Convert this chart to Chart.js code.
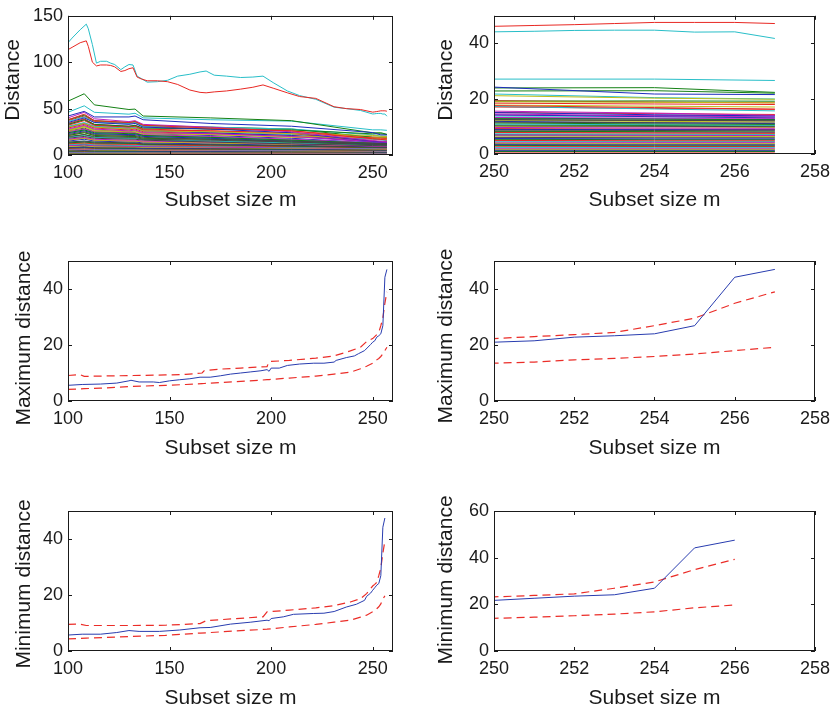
<!DOCTYPE html>
<html>
<head>
<meta charset="utf-8">
<script src="https://cdn.jsdelivr.net/npm/chart.js@4.4.1/dist/chart.umd.min.js"></script>
<style>
  body { margin: 0; background: #fff; }
  #wrap { position: relative; width: 837px; height: 710px; overflow: hidden; }
  #wrap canvas { position: absolute; }
</style>
</head>
<body>
<div id="wrap">
  <canvas id="distAll" width="418" height="222" style="left:0;top:0"></canvas>
  <canvas id="distZoom" width="419" height="222" style="left:418px;top:0"></canvas>
  <canvas id="maxAll" width="418" height="238" style="left:0;top:232px"></canvas>
  <canvas id="maxZoom" width="419" height="238" style="left:418px;top:232px"></canvas>
  <canvas id="minAll" width="418" height="238" style="left:0;top:472px"></canvas>
  <canvas id="minZoom" width="419" height="238" style="left:418px;top:472px"></canvas>
</div>
<script>
// ---- forward search trajectories (top row) ----
const outlierSizes = [100, 102, 106, 109, 110, 112, 114, 116, 119, 121, 123, 126, 128, 130, 132, 134, 136, 139, 144, 149, 154, 160, 165, 168, 172, 178, 185, 191, 196, 201, 208, 214, 222, 231, 237, 244, 250, 251, 252, 253, 254, 255, 256, 257];
const outlierCyan = [121, 126, 135, 141, 136, 119, 99, 101, 101, 99, 97.5, 92, 95, 97.5, 97, 85, 82.5, 78.5, 79, 80.5, 85, 87, 89.5, 90.5, 86, 85, 83.5, 84, 85, 78, 69, 64, 60, 51.5, 50, 48, 44.2, 44.4, 44.7, 44.8, 44.8, 44.1, 44.2, 41.8];
const outlierRed = [113.5, 116, 121, 123, 117, 100, 96, 97, 97, 96.5, 95, 90, 91, 93, 94, 84, 82, 80, 80, 79, 76, 70, 67.5, 67, 68, 69, 71, 73, 75.5, 72, 67, 63, 61, 52, 50, 49, 46.2, 46.5, 46.8, 47.2, 47.6, 47.6, 47.6, 47.2];

const bundleSizes = [100, 108, 113, 130, 133, 137, 170, 210, 250, 254, 257];
const bundleDistances = [
  [42, 47, 41, 41, 42, 38, 34, 31, 24.2, 21.7, 21.5],
  [58, 66, 54, 49, 49.5, 42, 40, 37, 23.9, 24.0, 22.3],
  [38, 44, 37, 35, 36, 32, 29, 26, 17.5, 16.8, 16.2],
  [46, 53, 46, 44, 45, 40, 38, 36.5, 27.1, 27.1, 26.6],
  [40, 46, 39, 36, 37, 33, 30, 25, 15.5, 14.8, 14.0],
  [30, 34, 30, 28, 29, 26, 25, 23, 21.1, 20.2, 19.8],
  [22, 25, 22, 21, 21, 19, 17, 15, 12.5, 12.2, 12.0],
  [35, 40, 35, 33, 34, 30, 28, 24, 15.0, 14.2, 13.8],
  [33, 38, 33, 31, 32, 29, 28, 27, 22.8, 22.9, 22.0],
  [32, 37, 32, 30, 31, 27, 26, 24, 18.4, 18.1, 17.9],
  [36, 41, 35, 34, 35, 31, 30, 28, 21.7, 20.4, 19.9],
  [28, 32, 28, 26, 27, 24, 23, 20, 14.5, 13.8, 13.4],
  [26, 30, 26, 25, 25, 23, 22, 20, 18.9, 18.7, 18.5],
  [20, 22, 20, 19, 19, 17, 16, 14, 11.5, 11.3, 11.2],
  [30, 34, 30, 28, 29, 26, 24, 21, 14.2, 13.5, 13.1],
  [24, 27, 24, 23, 23, 21, 19, 16, 12.8, 12.6, 12.4],
  [34, 39, 33, 31, 32, 28, 26, 23, 15.0, 14.6, 14.3],
  [31, 35, 31, 29, 30, 27, 25, 22, 17.2, 16.3, 15.6],
  [25, 28, 25, 24, 24, 22, 20, 17, 13.2, 13.0, 12.9],
  [27, 31, 27, 26, 26, 24, 22, 19, 17.7, 17.3, 17.0],
  [18, 20, 18, 17, 17, 16, 14, 12, 10.2, 10.0, 9.9],
  [23, 26, 23, 22, 22, 20, 18, 15, 11.8, 11.3, 11.0],
  [21, 24, 21, 20, 20, 18, 17, 14, 11.2, 10.9, 10.7],
  [29, 33, 29, 27, 28, 25, 23, 21, 17.0, 16.5, 16.2],
  [19, 21, 19, 18, 18, 17, 15, 13, 10.8, 10.6, 10.4],
  [17, 19, 17, 16, 16, 15, 14, 12, 9.6, 9.4, 9.3],
  [16, 18, 16, 15, 15, 14, 13, 11.5, 10.0, 9.8, 9.6],
  [14, 15, 14, 13, 13, 12, 11, 10, 8.6, 8.5, 8.4],
  [15, 17, 15, 14, 14, 13, 12, 10.5, 8.9, 8.8, 8.7],
  [13, 14, 13, 12.5, 12.5, 11.5, 11, 9.5, 8.2, 8.1, 8.0],
  [12, 13, 12, 11.5, 11.5, 11, 10, 9, 7.8, 7.6, 7.5],
  [11, 12, 11, 10.5, 10.5, 10, 9.5, 8.5, 7.3, 7.2, 7.1],
  [10, 11, 10, 9.5, 9.5, 9, 8.5, 7.8, 6.9, 6.8, 6.7],
  [9, 10, 9, 8.7, 8.7, 8.3, 8, 7.3, 6.5, 6.4, 6.3],
  [8.5, 9, 8.5, 8, 8, 7.7, 7.3, 6.8, 6.0, 5.9, 5.9],
  [8, 8.5, 8, 7.5, 7.5, 7.2, 6.9, 6.4, 5.6, 5.5, 5.5],
  [7.5, 8, 7.5, 7, 7, 6.8, 6.5, 6, 5.3, 5.2, 5.2],
  [7, 7.5, 7, 6.6, 6.6, 6.4, 6.1, 5.6, 4.9, 4.8, 4.8],
  [6.5, 7, 6.5, 6.2, 6.2, 6, 5.7, 5.2, 4.6, 4.5, 4.5],
  [6, 6.4, 6, 5.8, 5.8, 5.5, 5.3, 4.9, 4.3, 4.2, 4.2],
  [5.5, 5.9, 5.5, 5.3, 5.3, 5.1, 4.9, 4.5, 4.0, 3.9, 3.9],
  [5, 5.3, 5, 4.8, 4.8, 4.6, 4.4, 4.1, 3.7, 3.6, 3.6],
  [4.5, 4.8, 4.5, 4.3, 4.3, 4.2, 4.0, 3.7, 3.4, 3.3, 3.3],
  [4, 4.3, 4, 3.9, 3.9, 3.8, 3.6, 3.4, 3.1, 3.0, 3.0],
  [3.5, 3.7, 3.5, 3.4, 3.4, 3.3, 3.2, 3.0, 2.8, 2.7, 2.7],
  [3, 3.2, 3, 2.9, 2.9, 2.8, 2.7, 2.6, 2.4, 2.4, 2.4],
  [2.6, 2.8, 2.6, 2.5, 2.5, 2.4, 2.3, 2.2, 2.1, 2.1, 2.1],
  [2.2, 2.3, 2.2, 2.1, 2.1, 2.0, 2.0, 1.9, 1.8, 1.8, 1.8],
  [1.8, 1.9, 1.8, 1.7, 1.7, 1.7, 1.6, 1.6, 1.5, 1.5, 1.5],
  [1.4, 1.5, 1.4, 1.4, 1.4, 1.3, 1.3, 1.3, 1.2, 1.2, 1.2],
  [1.1, 1.1, 1.1, 1.0, 1.0, 1.0, 1.0, 1.0, 0.9, 0.9, 0.9],
  [0.8, 0.8, 0.8, 0.8, 0.8, 0.8, 0.8, 0.7, 0.7, 0.7, 0.7],
  [24, 27, 23, 22, 23, 20, 18, 16, 13.7, 13.6, 13.7],
  [33, 38, 32, 30, 31, 27, 24, 20, 14.0, 13.9, 13.9],
  [21, 24, 21, 20, 20, 18, 17, 15.5, 12.0, 11.8, 11.6],
  [26, 29, 25, 24, 24, 21, 19, 16, 12.2, 12.1, 12.0],
  [27, 31, 27, 25, 26, 23, 21, 18, 13.0, 12.7, 12.5],
  [19, 22, 19, 18, 18, 16.5, 15, 13, 10.5, 10.3, 10.2],
  [16, 18, 16, 15, 15, 14, 13, 11, 9.2, 9.0, 8.9],
  [13.5, 15, 13.5, 13, 13, 12, 11.5, 10, 9.0, 8.9, 8.8],
  [12.5, 14, 12.5, 12, 12, 11, 10.5, 9.5, 8.0, 7.9, 7.8],
  [11.5, 12.5, 11.5, 11, 11, 10.5, 10, 9, 7.7, 7.6, 7.5],
  [10.5, 11.5, 10.5, 10, 10, 9.5, 9, 8.2, 7.0, 6.9, 6.9],
  [9.5, 10.5, 9.5, 9, 9, 8.7, 8.3, 7.6, 6.6, 6.5, 6.5],
  [38, 43, 37, 35, 36, 32, 30, 28, 19.1, 19.2, 19.1],
  [37, 42, 36, 34, 35, 31, 28, 26, 19.3, 18.8, 18.5]
];

// ---- maximum distance (middle row) ----
const maxSizes = [100, 107, 116, 124, 130, 131, 135, 142, 145, 150, 155, 160, 165, 170, 175, 180, 185, 190, 195, 198, 199, 200, 204, 208, 214, 221, 226, 231, 232, 237, 241, 243, 246, 249, 250, 251, 252, 253, 254, 255, 256, 257];
const maxDistance = [5.6, 5.9, 6.05, 6.4, 7.2, 7.4, 6.8, 6.8, 6.6, 7.2, 7.6, 7.95, 8.5, 8.5, 9.0, 9.6, 10.0, 10.4, 10.8, 11.2, 10.6, 11.75, 11.75, 12.7, 13.2, 13.5, 13.5, 13.9, 14.5, 15.5, 16.1, 16.9, 18.0, 20.2, 21.0, 21.5, 22.8, 23.3, 24.0, 26.9, 44.2, 47.0];
const maxBandSizes = [100, 106, 108, 116, 132, 148, 158, 166, 167, 175, 185, 198, 199, 209, 222, 231, 239, 244, 247, 250, 251, 252, 253, 254, 255, 256, 257];
const maxUpper = [9.1, 9.4, 8.8, 8.9, 9.1, 9.3, 9.5, 10.0, 10.8, 11.4, 11.75, 12.3, 14.1, 14.5, 15.3, 16.1, 17.9, 19.2, 21.2, 22.3, 23.0, 23.7, 24.5, 26.9, 29.6, 34.9, 39.0];
const maxLower = [4.15, 4.3, 4.4, 4.6, 5.2, 5.6, 5.9, 6.2, 6.25, 6.6, 7.0, 7.6, 7.65, 8.2, 8.9, 9.6, 10.3, 11.5, 12.4, 13.5, 13.9, 14.7, 15.2, 15.9, 16.8, 18.0, 19.2];

// ---- minimum distance (bottom row) ----
const minSizes = [100, 107, 116, 124, 130, 135, 145, 155, 165, 170, 180, 190, 198, 199, 200, 206, 211, 221, 226, 231, 237, 242, 246, 247, 249, 250, 251, 252, 253, 254, 255, 256];
const minDistance = [5.7, 6.0, 6.0, 6.6, 7.3, 7.0, 7.0, 7.5, 8.3, 8.4, 9.6, 10.3, 11.0, 10.8, 11.6, 12.2, 13.1, 13.4, 13.5, 14.1, 15.7, 16.7, 18.1, 19.5, 20.7, 21.7, 22.6, 23.5, 24.1, 26.9, 44.2, 47.5];
const minBandSizes = [100, 106, 109, 132, 148, 165, 168, 181, 196, 198, 209, 222, 231, 239, 244, 247, 250, 251, 252, 253, 254, 255, 256];
const minUpper = [9.5, 9.6, 9.1, 9.1, 9.2, 9.8, 10.8, 11.5, 12.2, 14.0, 14.6, 15.4, 16.2, 17.5, 18.7, 20.5, 23.2, 23.8, 24.5, 26.9, 29.6, 34.9, 39.3];
const minLower = [4.3, 4.5, 4.6, 5.2, 5.6, 6.4, 6.5, 7.1, 7.7, 7.8, 8.6, 9.5, 10.3, 11.0, 12.1, 12.8, 14.0, 14.5, 15.1, 15.8, 16.8, 18.5, 19.7];

const matlabColors = ['rgb(30,45,190)', 'rgb(20,128,20)', 'rgb(232,40,35)', 'rgb(40,190,200)', 'rgb(190,30,190)', 'rgb(190,190,25)', 'rgb(70,70,70)'];
const FONT = '"Liberation Sans", Arial, Helvetica, sans-serif';
const INK = '#1a1a1a';

function points(xs, ys) {
    return xs.map((x, i) => ({ x: x, y: ys[i] }));
}

function solid(xs, ys, color) {
    return { data: points(xs, ys), borderColor: color, borderWidth: 1, pointRadius: 0, tension: 0 };
}

function dashed(xs, ys, color) {
    return { data: points(xs, ys), borderColor: color, borderWidth: 1.2, borderDash: [8, 5], pointRadius: 0, tension: 0 };
}

function trajectoryDatasets() {
    // first dataset is painted last, so the two outliers go first
    const sets = [
        solid(outlierSizes, outlierRed, matlabColors[2]),
        solid(outlierSizes, outlierCyan, matlabColors[3])
    ];
    bundleDistances.forEach(function(row, i) {
        sets.push(solid(bundleSizes, row, matlabColors[i % matlabColors.length]));
    });
    return sets;
}

// MATLAB style frame: full box with inward ticks on all four sides,
// plus the y label drawn without Chart.js squeezing it to the axis height
const boxTicks = {
    id: 'boxTicks',
    afterDatasetsDraw(chart, args, opts) {
        const { ctx, chartArea: a, scales } = chart;
        const len = 4;
        ctx.save();
        ctx.strokeStyle = INK;
        ctx.lineWidth = 1;
        ctx.beginPath();
        scales.x.ticks.forEach(function(t) {
            const px = Math.round(scales.x.getPixelForValue(t.value)) + 0.5;
            ctx.moveTo(px, a.bottom); ctx.lineTo(px, a.bottom - len);
            ctx.moveTo(px, a.top); ctx.lineTo(px, a.top + len);
        });
        scales.y.ticks.forEach(function(t) {
            const py = Math.round(scales.y.getPixelForValue(t.value)) + 0.5;
            ctx.moveTo(a.left, py); ctx.lineTo(a.left + len, py);
            ctx.moveTo(a.right, py); ctx.lineTo(a.right - len, py);
        });
        ctx.stroke();
        ctx.strokeRect(Math.round(a.left) + 0.5, Math.round(a.top) + 0.5,
                       Math.round(a.right - a.left) - 1, Math.round(a.bottom - a.top) - 1);

        ctx.translate(opts.x, opts.y);
        ctx.rotate(-Math.PI / 2);
        ctx.fillStyle = INK;
        ctx.font = '21px ' + FONT;
        ctx.textAlign = 'center';
        ctx.textBaseline = 'middle';
        ctx.fillText(opts.text, 0, 0);
        ctx.restore();
    }
};

function makePanel(id, p) {
    const ctx = document.getElementById(id).getContext('2d');
    return new Chart(ctx, {
        type: 'line',
        data: { datasets: p.datasets },
        options: {
            responsive: false,
            animation: false,
            events: [],
            layout: { padding: { top: p.top, right: p.right, left: 0, bottom: 0 } },
            plugins: {
                legend: { display: false },
                tooltip: { enabled: false },
                boxTicks: { text: p.yTitle, x: p.yTitleX, y: p.yTitleY }
            },
            scales: {
                x: {
                    type: 'linear',
                    min: p.xMin,
                    max: p.xMax,
                    afterBuildTicks: function(s) { s.ticks = p.xTicks.map(v => ({ value: v })); },
                    afterFit: function(s) { s.height = p.xHeight; },
                    grid: { display: false, drawTicks: false },
                    border: { display: false },
                    ticks: { padding: 7, color: INK, font: { family: FONT, size: 18 }, maxRotation: 0 },
                    title: {
                        display: true, text: 'Subset size m', color: INK,
                        font: { family: FONT, size: 21, lineHeight: 1 },
                        padding: { top: 0, bottom: p.xTitlePad }
                    }
                },
                y: {
                    type: 'linear',
                    min: 0,
                    max: p.yMax,
                    afterBuildTicks: function(s) { s.ticks = p.yTicks.map(v => ({ value: v })); },
                    afterFit: function(s) { s.width = p.yWidth; },
                    grid: { display: false, drawTicks: false },
                    border: { display: false },
                    ticks: { padding: 5, color: INK, font: { family: FONT, size: 18 } },
                    title: { display: false }
                }
            }
        },
        plugins: [boxTicks]
    });
}

const wideTicks = [100, 150, 200, 250];
const zoomTicks = [250, 252, 254, 256, 258];

makePanel('distAll', {
    datasets: trajectoryDatasets(), xMin: 100, xMax: 260, xTicks: wideTicks,
    yMax: 150, yTicks: [0, 50, 100, 150], yTitle: 'Distance', yTitleX: 13.5, yTitleY: 80,
    top: 14, right: 25, yWidth: 68, xHeight: 67, xTitlePad: 11.5
});
makePanel('distZoom', {
    datasets: trajectoryDatasets(), xMin: 250, xMax: 258, xTicks: zoomTicks,
    yMax: 50, yTicks: [0, 20, 40], yTitle: 'Distance', yTitleX: 28.5, yTitleY: 80,
    top: 14, right: 19, yWidth: 76, xHeight: 68, xTitlePad: 11.5
});
makePanel('maxAll', {
    datasets: [solid(maxSizes, maxDistance, 'rgb(40,60,175)'),
               dashed(maxBandSizes, maxUpper, 'rgb(235,45,40)'),
               dashed(maxBandSizes, maxLower, 'rgb(235,45,40)')],
    xMin: 100, xMax: 260, xTicks: wideTicks,
    yMax: 50, yTicks: [0, 20, 40], yTitle: 'Maximum distance', yTitleX: 24, yTitleY: 106,
    top: 29, right: 25, yWidth: 68, xHeight: 69, xTitlePad: 11.5
});
makePanel('maxZoom', {
    datasets: [solid(maxSizes, maxDistance, 'rgb(40,60,175)'),
               dashed(maxBandSizes, maxUpper, 'rgb(235,45,40)'),
               dashed(maxBandSizes, maxLower, 'rgb(235,45,40)')],
    xMin: 250, xMax: 258, xTicks: zoomTicks,
    yMax: 50, yTicks: [0, 20, 40], yTitle: 'Maximum distance', yTitleX: 28.5, yTitleY: 104,
    top: 29, right: 19, yWidth: 76, xHeight: 69, xTitlePad: 11.5
});
makePanel('minAll', {
    datasets: [solid(minSizes, minDistance, 'rgb(40,60,175)'),
               dashed(minBandSizes, minUpper, 'rgb(235,45,40)'),
               dashed(minBandSizes, minLower, 'rgb(235,45,40)')],
    xMin: 100, xMax: 260, xTicks: wideTicks,
    yMax: 50, yTicks: [0, 20, 40], yTitle: 'Minimum distance', yTitleX: 24, yTitleY: 112,
    top: 39, right: 25, yWidth: 68, xHeight: 59, xTitlePad: 1.5
});
makePanel('minZoom', {
    datasets: [solid(minSizes, minDistance, 'rgb(40,60,175)'),
               dashed(minBandSizes, minUpper, 'rgb(235,45,40)'),
               dashed(minBandSizes, minLower, 'rgb(235,45,40)')],
    xMin: 250, xMax: 258, xTicks: zoomTicks,
    yMax: 60, yTicks: [0, 20, 40, 60], yTitle: 'Minimum distance', yTitleX: 28.5, yTitleY: 108,
    top: 39, right: 19, yWidth: 76, xHeight: 59, xTitlePad: 1.5
});
</script>
</body>
</html>
